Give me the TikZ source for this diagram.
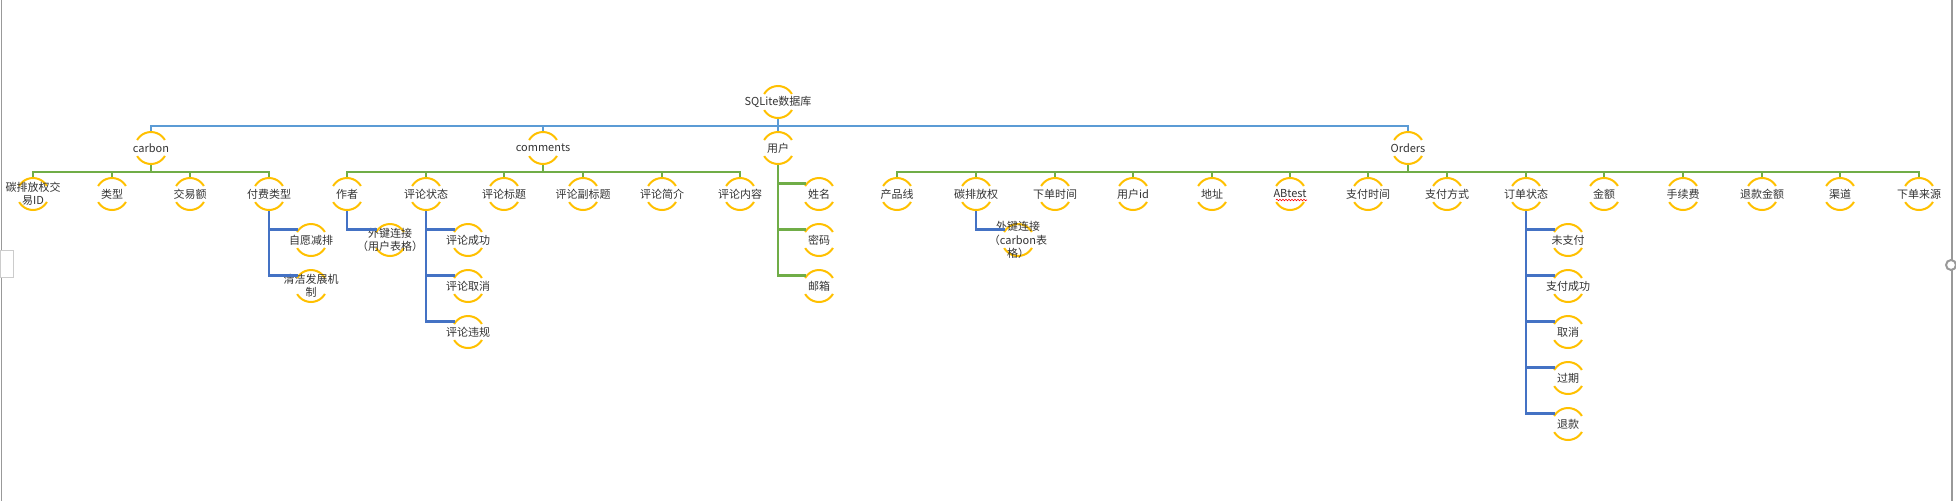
\documentclass[tikz,border=0pt]{standalone}
\usepackage{fontspec}
\setmainfont{Noto Sans CJK SC}
\usepackage{xcolor}
\usepackage{tikz}
\usetikzlibrary{calc,decorations.pathmorphing}

\definecolor{ringc}{HTML}{FFC000}
\definecolor{lineA}{HTML}{5B9BD5}
\definecolor{lineB}{HTML}{70AD47}
\definecolor{lineC}{HTML}{4472C4}
\definecolor{txtc}{HTML}{333333}

\tikzset{
  ring/.style={circle, minimum size=32pt, inner sep=0pt, draw=ringc, line width=2pt,
    dash pattern=on 33.51pt off 16.76pt, dash phase=41.89pt},
  lbl/.style={font=\fontsize{11}{13.5}\selectfont, text=txtc, align=center, inner sep=0pt},
  topic/.style={ring, label={[lbl]center:#1}},
  linkA/.style={draw=lineA, line width=2pt},
  linkB/.style={draw=lineB, line width=2.4pt},
  linkC/.style={draw=lineC, line width=2.4pt},
  frame/.style={draw=gray!80, line width=1.2pt}
}

\begin{document}
\begin{tikzpicture}[x=1pt,y=-1pt]
    \useasboundingbox (0,0) rectangle (1956,501);

    % root and tables
    \node[topic={SQLite数据库}] (db) at (778,102) {};
    \node[topic=carbon] (carbon) at (151,148) {};
    \node[topic=comments] (cmt) at (543,148) {};
    \node[topic=用户] (usr) at (778,148) {};
    \node[topic=Orders] (ord) at (1408,148) {};

    % carbon
    \node[topic={碳排放权交\\易ID}] (c1) at (33,194) {};
    \node[topic=类型] (c2) at (112,194) {};
    \node[topic=交易额] (c3) at (190,194) {};
    \node[topic=付费类型] (c4) at (269,194) {};
    \node[topic=自愿减排] (c4a) at (311,240) {};
    \node[topic={清洁发展机\\制}] (c4b) at (311,286) {};

    % comments
    \node[topic=作者] (m1) at (347,194) {};
    \node[topic=评论状态] (m2) at (426,194) {};
    \node[topic=评论标题] (m3) at (504,194) {};
    \node[topic=评论副标题] (m4) at (583,194) {};
    \node[topic=评论简介] (m5) at (662,194) {};
    \node[topic=评论内容] (m6) at (740,194) {};
    \node[topic={外键连接\\（用户表格）}] (m1a) at (390,240) {};
    \node[topic=评论成功] (m2a) at (468,240) {};
    \node[topic=评论取消] (m2b) at (468,286) {};
    \node[topic=评论违规] (m2c) at (468,332) {};

    % users
    \node[topic=姓名] (u1) at (819,194) {};
    \node[topic=密码] (u2) at (819,240) {};
    \node[topic=邮箱] (u3) at (819,286) {};

    % orders
    \node[topic=产品线] (o1) at (897,194) {};
    \node[topic=碳排放权] (o2) at (976,194) {};
    \node[topic=下单时间] (o3) at (1055,194) {};
    \node[topic=用户id] (o4) at (1133,194) {};
    \node[topic=地址] (o5) at (1212,194) {};
    \node[topic=ABtest] (o6) at (1290,194) {};
    \node[topic=支付时间] (o7) at (1368,194) {};
    \node[topic=支付方式] (o8) at (1447,194) {};
    \node[topic=订单状态] (o9) at (1526,194) {};
    \node[topic=金额] (o10) at (1604,194) {};
    \node[topic=手续费] (o11) at (1683,194) {};
    \node[topic=退款金额] (o12) at (1762,194) {};
    \node[topic=渠道] (o13) at (1840,194) {};
    \node[topic=下单来源] (o14) at (1919,194) {};
    \node[topic={外键连接\\（carbon表\\格）}] (o2a) at (1018,240) {};
    \node[topic=未支付] (o9a) at (1568,240) {};
    \node[topic=支付成功] (o9b) at (1568,286) {};
    \node[topic=取消] (o9c) at (1568,332) {};
    \node[topic=过期] (o9d) at (1568,378) {};
    \node[topic=退款] (o9e) at (1568,424) {};

    % connectors
    \foreach \n in {carbon,cmt,usr,ord}
        \draw[linkA] (db.south) -- ++(0,7) -| (\n.north);
    \foreach \n in {c1,c2,c3,c4}
        \draw[linkB] (carbon.south) -- ++(0,7) -| (\n.north);
    \foreach \n in {m1,m2,m3,m4,m5,m6}
        \draw[linkB] (cmt.south) -- ++(0,7) -| (\n.north);
    \foreach \n in {o1,o2,o3,o4,o5,o6,o7,o8,o9,o10,o11,o12,o13,o14}
        \draw[linkB] (ord.south) -- ++(0,7) -| (\n.north);
    \foreach \n in {u1,u2,u3}
        \draw[linkB] (usr.south) |- (\n.141);
    \foreach \n in {c4a,c4b}
        \draw[linkC] (c4.south) |- (\n.141);
    \draw[linkC] (m1.south) |- (m1a.141);
    \foreach \n in {m2a,m2b,m2c}
        \draw[linkC] (m2.south) |- (\n.141);
    \draw[linkC] (o2.south) |- (o2a.141);
    \foreach \n in {o9a,o9b,o9c,o9d,o9e}
        \draw[linkC] (o9.south) |- (\n.141);

    % spell mark under ABtest
    \draw[red, line width=0.6pt, decorate, decoration={snake, amplitude=0.8pt, segment length=3pt}]
        ($(o6)+(-14,6)$) -- ($(o6)+(17,6)$);

    % window edges
    \draw[frame] (1.5,0) -- (1.5,501);
    \draw[frame] (1952,0) -- (1952,501);
    \draw[draw=gray!40, fill=white] (0,250) rectangle (13,277);
    \draw[draw=gray!80, line width=2pt, fill=white] (1951,265) circle[radius=5pt];
\end{tikzpicture}
\end{document}
